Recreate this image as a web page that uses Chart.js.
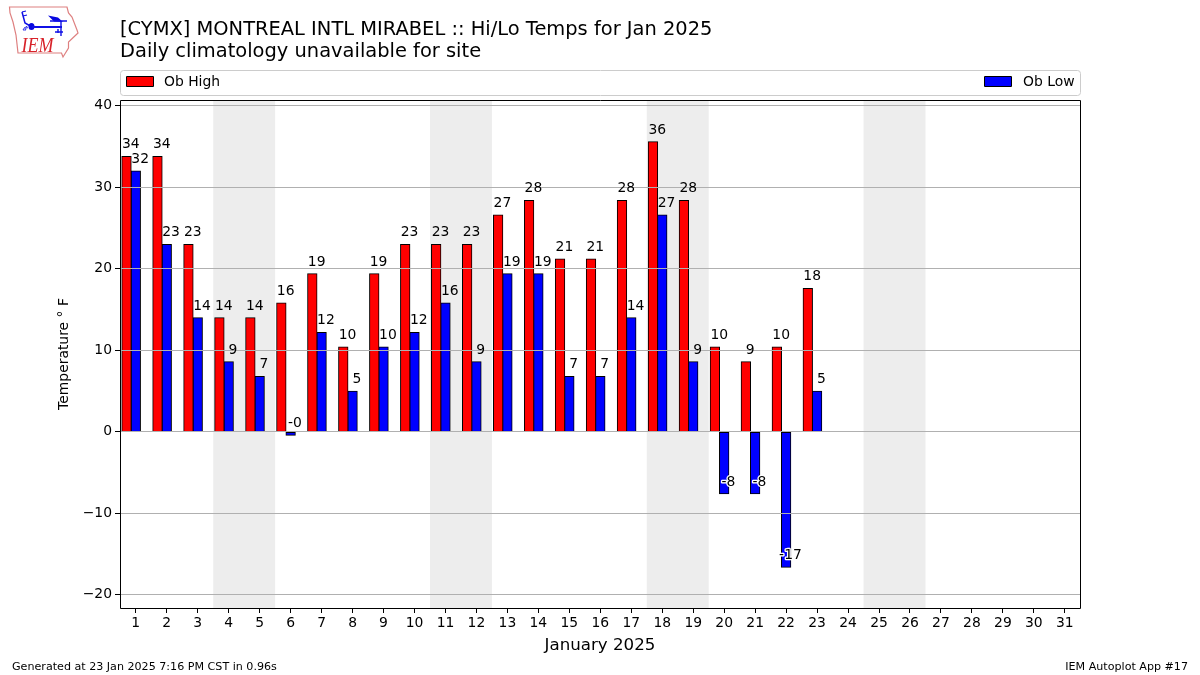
<!DOCTYPE html>
<html><head><meta charset="utf-8">
<script src="https://cdn.jsdelivr.net/npm/chart.js@4"></script>
<style>
html,body{margin:0;padding:0;background:#fff;width:1200px;height:675px;overflow:hidden}
#c{position:absolute;left:0;top:0}
#logo{position:absolute;left:0;top:0}
</style></head><body>
<canvas id="c" width="1200" height="675"></canvas>
<svg id="logo" width="90" height="65" viewBox="0 0 90 65">
<path d="M9.5 7 L67 7 L68.5 13 L72 17 L77 30 L78 33 L68.5 42 L68.5 48 L63 57 L61.5 53 L18 53 L16 35 L13 22 L10 13 Z" fill="#fff" stroke="#de8080" stroke-width="1.2"/>
<path d="M22 12 L25 23 L32 27" fill="none" stroke="#1010e6" stroke-width="1.5"/>
<path d="M22 12 L26 11 M23 16 L27 15" fill="none" stroke="#1010e6" stroke-width="1.1"/>
<ellipse cx="31.5" cy="26.5" rx="3" ry="3.5" fill="#0808e0"/>
<path d="M32 27 L62 27" stroke="#1010e6" stroke-width="2" fill="none"/>
<path d="M48 15.5 L58 17.5 L63 22 L54 21.5 Z" fill="#0808e0"/>
<path d="M50 21 L67 21 M61 21 L61 36 M55 32 L63 32 M58 29 L58 33" stroke="#1010e6" stroke-width="1.4" fill="none"/>
<path d="M23 30 l1.5 -2.5 l1.5 2.5 Z M25.5 28 l1 -2 l1 2 Z" fill="none" stroke="#1010e6" stroke-width="0.8"/>
<text x="21.5" y="52" font-family="Liberation Serif" font-style="italic" font-size="22" textLength="32" lengthAdjust="spacingAndGlyphs" fill="#d8222a">IEM</text>
</svg>
<script>
const days = Array.from({length:31},(_,i)=>i+1);
const obHigh = [33.8,33.8,23,14,14,15.8,19.4,10.4,19.4,23,23,23,26.6,28.4,21.2,21.2,28.4,35.6,28.4,10.4,8.6,10.4,17.6];
const obLow = [32,23,14,8.6,6.8,-0.4,12.2,5,10.4,12.2,15.8,8.6,19.4,19.4,6.8,6.8,14,26.6,8.6,-7.6,-7.6,-16.6,5];
const yTicks = [-20,-10,0,10,20,30,40];
const weekendSpans = [[3.5,5.5],[10.5,12.5],[17.5,19.5],[24.5,26.5]];
const titleLines = ['[CYMX] MONTREAL INTL MIRABEL :: Hi/Lo Temps for Jan 2025','Daily climatology unavailable for site'];
const footerLeft = 'Generated at 23 Jan 2025 7:16 PM CST in 0.96s';
const footerRight = 'IEM Autoplot App #17';
const BAR = 0.3;
const FONT = '"DejaVu Sans"';

const decor = {
  id:'decor',
  beforeDatasetsDraw(ch){
    const {ctx,chartArea:a,scales:{x}} = ch;
    ctx.save();
    ctx.fillStyle='#ededed';
    weekendSpans.forEach(([s,e])=>{
      const l=x.getPixelForValue(s), r=x.getPixelForValue(e);
      ctx.fillRect(l,a.top,r-l,a.bottom-a.top);
    });
    ctx.restore();
  },
  afterDraw(ch){
    const {ctx,chartArea:a,scales:{x,y}} = ch;
    ctx.save();
    ctx.font='13.9px '+FONT;
    ctx.textAlign='center';
    ctx.textBaseline='alphabetic';
    ctx.lineJoin='round';
    ch.data.datasets.forEach(ds=>{
      ds.data.forEach(p=>{
        const px=x.getPixelForValue(p.x+BAR/2)-0.3;
        const py=y.getPixelForValue(p.y+1);
        const t=p.y.toFixed(0);
        if(p.y<0){ctx.strokeStyle='#fff';ctx.lineWidth=2.5;ctx.strokeText(t,px,py);}
        ctx.fillStyle='#000';
        ctx.fillText(t,px,py);
      });
    });
    ctx.strokeStyle='#000';ctx.lineWidth=1;
    ctx.strokeRect(120.5,100.5,960,508);
    ctx.strokeStyle='#cccccc';
    ctx.beginPath();ctx.roundRect(120.5,70.5,960,25,3);ctx.stroke();
    ctx.textAlign='left';ctx.font='13.9px '+FONT;
    const d=ch.data.datasets;
    ctx.strokeStyle='#000';
    ctx.fillStyle=d[0].backgroundColor;ctx.fillRect(127,77,26,9);ctx.strokeRect(126.5,76.5,27,10);
    ctx.fillStyle=d[1].backgroundColor;ctx.fillRect(985,77,26,9);ctx.strokeRect(984.5,76.5,27,10);
    ctx.fillStyle='#000';
    ctx.fillText(d[0].label,164,86);
    ctx.textAlign='right';
    ctx.fillText(d[1].label,1074.5,86);
    ctx.font='11.12px '+FONT;
    ctx.fillText(footerRight,1188,670);
    ctx.textAlign='left';
    ctx.fillText(footerLeft,12,670);
    ctx.restore();
  }
};

new Chart(document.getElementById('c'),{
  type:'bar',
  data:{datasets:[
    {label:'Ob High',data:obHigh.map((v,i)=>({x:days[i]-BAR,y:v})),backgroundColor:'#ff0000',borderColor:'#000',borderWidth:1,inflateAmount:0.5,borderSkipped:false,barThickness:9.3,grouped:false},
    {label:'Ob Low',data:obLow.map((v,i)=>({x:days[i],y:v})),backgroundColor:'#0000ff',borderColor:'#000',borderWidth:1,inflateAmount:0.5,borderSkipped:false,barThickness:9.3,grouped:false}
  ]},
  plugins:[decor],
  options:{
    responsive:false,animation:false,devicePixelRatio:1,
    layout:{padding:{left:0,right:120,top:0,bottom:0}},
    plugins:{
      legend:{display:false},tooltip:{enabled:false},
      title:{display:true,text:titleLines,align:'start',fullSize:false,color:'#000',
        font:{family:FONT,size:19.44,weight:'normal',lineHeight:1.13},
        padding:{top:19,bottom:37.07}}
    },
    scales:{
      x:{type:'linear',min:0.49,max:31.49,offset:false,
        afterBuildTicks(s){s.ticks=days.map(v=>({value:v}));},
        afterFit(s){s.height=67;},
        grid:{display:true,offset:false,drawOnChartArea:false,drawTicks:true,tickLength:5,tickColor:'#000'},
        border:{display:false},
        ticks:{color:'#000',font:{family:FONT,size:13.9},padding:2,maxRotation:0,autoSkip:false,callback:v=>String(v)},
        title:{display:true,text:'January 2025',color:'#000',font:{family:FONT,size:16.67},padding:{top:0,bottom:19}}
      },
      y:{min:-21.61,max:40.72,
        afterBuildTicks(s){s.ticks=yTicks.map(v=>({value:v}));},
        afterFit(s){s.width=120;},
        grid:{color:'#b0b0b0',lineWidth:1,z:1,tickColor:'#000',tickLength:5,drawTicks:true},
        border:{display:false},
        ticks:{color:'#000',font:{family:FONT,size:13.9},padding:3,callback:v=>String(v).replace('-','\u2212')},
        title:{display:true,text:'Temperature \u00b0 F',color:'#000',font:{family:FONT,size:13.9},padding:{top:56,bottom:0}}
      }
    }
  }
});
</script>
</body></html>
